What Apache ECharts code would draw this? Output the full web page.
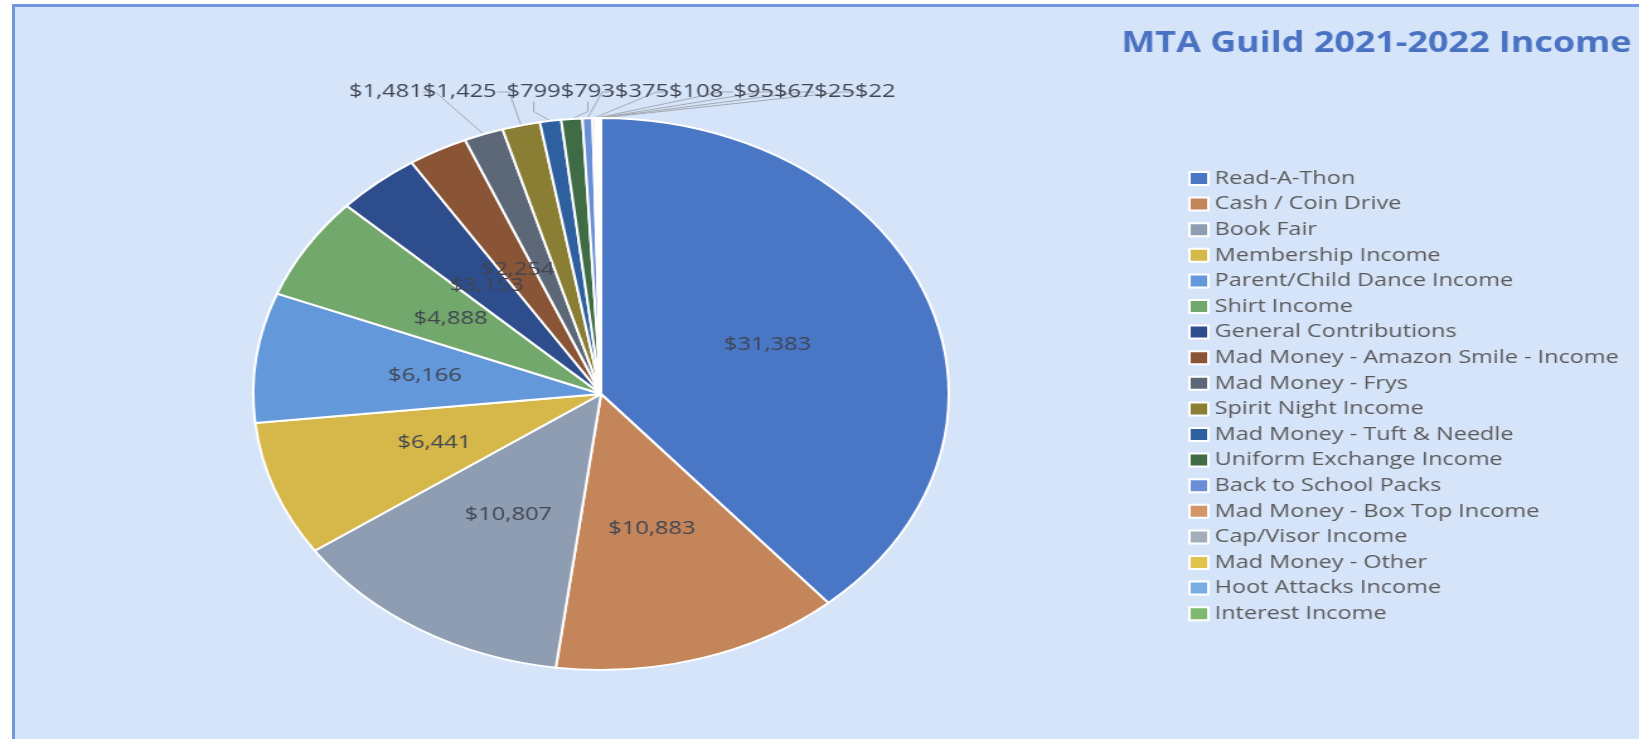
<!DOCTYPE html>
<html>
<head>
<meta charset="utf-8">
<script src="https://cdn.jsdelivr.net/npm/echarts@6/dist/echarts.min.js"></script>
<style>
  html, body { margin: 0; padding: 0; background: #ffffff; overflow: hidden; width: 1639px; height: 739px; }
  #frame { position: absolute; left: 12px; top: 4px; width: 1700px; height: 800px;
           background: #d6e4fa; border-left: 3px solid #7397df; border-top: 3px solid #7397df; }
  #chart { position: absolute; left: 0; top: 0; width: 1301px; height: 739px;
           transform: scaleX(1.26); transform-origin: 0 0; }
</style>
</head>
<body>
<div id="frame"></div>
<div id="chart"></div>
<script>
const titleText = 'MTA Guild 2021-2022 Income';
const categories = [
  'Read-A-Thon', 'Cash / Coin Drive', 'Book Fair', 'Membership Income',
  'Parent/Child Dance Income', 'Shirt Income', 'General Contributions',
  'Mad Money - Amazon Smile - Income', 'Mad Money - Frys', 'Spirit Night Income',
  'Mad Money - Tuft & Needle', 'Uniform Exchange Income', 'Back to School Packs',
  'Mad Money - Box Top Income', 'Cap/Visor Income', 'Mad Money - Other',
  'Hoot Attacks Income', 'Interest Income'
];
const values = [31383, 10883, 10807, 6441, 6166, 4888, 3153, 2254, 1481, 1425, 799, 793, 375, 108, 95, 67, 25, 22];
const colors = [
  '#4a76c6', '#c4855a', '#8f9db2', '#d6b84a', '#6398da', '#72a86b',
  '#2e4d8c', '#8a5436', '#5c6778', '#8a7d34', '#2e5f9e', '#3f6c45',
  '#6a8fd6', '#d4956a', '#a4adba', '#e2c24e', '#78ace2', '#7fb96f'
];

const insideCount = 8;
const fmt = v => '$' + v.toLocaleString('en-US');

const data = categories.map((name, i) => ({
  name: name,
  value: values[i],
  label: { position: i < insideCount ? 'inside' : 'outside' },
  labelLine: { show: i >= insideCount }
}));

let cursor = 0;
const chart = echarts.init(document.getElementById('chart'), null, { renderer: 'canvas' });
chart.setOption({
  backgroundColor: 'transparent',
  animation: false,
  color: colors,
  title: {
    text: titleText,
    left: 885,
    top: 23,
    textStyle: { fontFamily: 'Open Sans', fontWeight: 'bold', fontSize: 28.5, lineHeight: 32, color: '#4a72c2' }
  },
  legend: {
    orient: 'vertical',
    left: 938,
    top: 164,
    itemWidth: 15,
    itemHeight: 13,
    itemGap: 6.6,
    icon: 'rect',
    data: categories,
    textStyle: { fontFamily: 'Open Sans', fontSize: 18.6, lineHeight: 18, color: '#595959' }
  },
  series: [{
    type: 'pie',
    center: [477, 394],
    radius: [0, 276],
    startAngle: 90,
    clockwise: true,
    avoidLabelOverlap: false,
    itemStyle: { borderColor: '#ffffff', borderWidth: 2 },
    label: {
      show: true,
      formatter: p => fmt(p.value),
      fontFamily: 'Open Sans',
      fontSize: 18.8,
      color: '#404552'
    },
    labelLine: {
      show: true,
      length: 10,
      length2: 10,
      lineStyle: { color: '#a3a8b0', width: 1 }
    },
    labelLayout: function (p) {
      if (p.dataIndex < insideCount) return {};
      if (p.dataIndex === insideCount) cursor = 277;
      const x = cursor;
      cursor += p.labelRect.width + ((p.dataIndex === 9 || p.dataIndex === 13) ? 8 : 0);
      return { x: x, y: 92, align: 'left', verticalAlign: 'middle' };
    },
    data: data
  }]
});
</script>
</body>
</html>
